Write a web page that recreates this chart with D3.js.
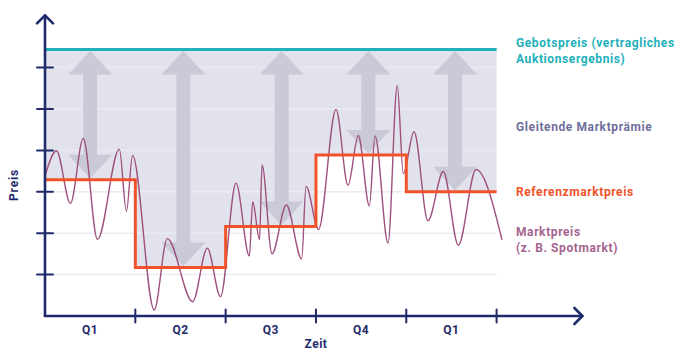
<!DOCTYPE html>
<html>
<head>
<meta charset="utf-8">
<script src="https://cdn.jsdelivr.net/npm/d3@7"></script>
<style>
  html, body { margin: 0; padding: 0; background: #ffffff; }
  svg { display: block; }
  text { font-family: Roboto, "Open Sans", sans-serif; font-weight: 700; }
</style>
</head>
<body>
<svg id="chart" width="680" height="352"></svg>
<script>
// Quarters along the time axis
const quarters = ["Q1", "Q2", "Q3", "Q4", "Q1"];

// Reference market price per quarter (step values)
const referencePrice = [3.29, 1.17, 2.16, 3.89, 3.0];

// Bid price (contracted auction result), constant
const bidPrice = 6.44;

// Market price (e.g. spot market): time in quarters, price in axis units
const marketTime = [0, 0.127, 0.282, 0.424, 0.581, 0.823, 0.902, 0.969, 1.209, 1.354,
  1.635, 1.797, 1.943, 2.115, 2.262, 2.3, 2.375, 2.403, 2.513, 2.672,
  2.842, 2.89, 3.028, 3.222, 3.355, 3.469, 3.591, 3.654, 3.798, 3.9,
  3.967, 4.086, 4.24, 4.41, 4.576, 4.772, 5.06];
const marketValue = [3.38, 3.99, 2.72, 4.29, 1.85, 4.03, 2.53, 3.88, 0.145, 1.87,
  0.345, 1.64, 0.466, 3.21, 1.45, 2.76, 1.84, 3.65, 1.5, 2.68,
  1.38, 3.13, 2.09, 4.99, 3.16, 4.36, 2.66, 4.35, 1.76, 5.57,
  3.44, 4.45, 2.3, 3.49, 1.71, 3.54, 1.84];

// Positions (in quarters) of the sliding premium arrows
const premiumArrowTime = [0.5, 1.532, 2.62, 3.58, 4.54];

// Y axis tick values and legend entries
const yTicks = [1, 2, 3, 4, 5, 6];
const legendLabels = [
  { lines: ["Gebotspreis (vertragliches", "Auktionsergebnis)"], color: "#22b0bb", y: 47 },
  { lines: ["Gleitende Marktprämie"], color: "#6f6f9c", y: 131 },
  { lines: ["Referenzmarktpreis"], color: "#f0532b", y: 196 },
  { lines: ["Marktpreis", "(z. B. Spotmarkt)"], color: "#a4648f", y: 236 }
];

const navy = "#1f2a6b";
const svg = d3.select("#chart");

const x = d3.scaleLinear().domain([0, 5]).range([45, 496.6]);
const y = d3.scaleLinear().domain([0, 6]).range([316, 67.6]);

// Shaded premium band between bid price and reference price
const stepData = referencePrice.map((v, i) => ({ t: i, v }));
stepData.push({ t: 5, v: referencePrice[referencePrice.length - 1] });

svg.append("path")
  .datum(stepData)
  .attr("fill", "#e2e2ec")
  .attr("d", d3.area()
    .x(d => x(d.t))
    .y0(y(bidPrice))
    .y1(d => y(d.v))
    .curve(d3.curveStepAfter));

// Horizontal gridlines
svg.append("g")
  .selectAll("line")
  .data(yTicks)
  .join("line")
  .attr("x1", x(0)).attr("x2", x(5))
  .attr("y1", d => y(d)).attr("y2", d => y(d))
  .attr("stroke", "#ebebf3")
  .attr("stroke-width", 1.5);

// Double-headed premium arrows from bid price down to reference price
const headW = 22, headH = 23.5, shaftW = 7;
svg.append("g")
  .selectAll("path")
  .data(premiumArrowTime)
  .join("path")
  .attr("fill", "#c9c9d8")
  .attr("d", t => {
    const cx = x(t);
    const top = y(bidPrice) + 1.5;
    const bottom = y(referencePrice[Math.floor(t)]) - 1.5;
    return `M${cx},${top} L${cx + headW},${top + headH} L${cx + shaftW},${top + headH}
      L${cx + shaftW},${bottom - headH} L${cx + headW},${bottom - headH} L${cx},${bottom}
      L${cx - headW},${bottom - headH} L${cx - shaftW},${bottom - headH}
      L${cx - shaftW},${top + headH} L${cx - headW},${top + headH} Z`;
  });

// Bid price line
svg.append("line")
  .attr("x1", x(0)).attr("x2", x(5))
  .attr("y1", y(bidPrice)).attr("y2", y(bidPrice))
  .attr("stroke", "#22b0bb")
  .attr("stroke-width", 3);

// Market price curve
const marketData = marketTime.map((t, i) => ({ t, v: marketValue[i] }));
svg.append("path")
  .datum(marketData)
  .attr("fill", "none")
  .attr("stroke", "#9e507f")
  .attr("stroke-width", 1.4)
  .attr("d", d3.line()
    .x(d => x(d.t))
    .y(d => y(d.v))
    .curve(d3.curveMonotoneX));

// Reference price step line
svg.append("path")
  .datum(stepData)
  .attr("fill", "none")
  .attr("stroke", "#f0522a")
  .attr("stroke-width", 3)
  .attr("d", d3.line()
    .x(d => x(d.t))
    .y(d => y(d.v))
    .curve(d3.curveStepAfter));

// Axes
const axisG = svg.append("g").attr("stroke", navy).attr("fill", "none")
  .attr("stroke-width", 2.6).attr("stroke-linecap", "round").attr("stroke-linejoin", "round");

const yTop = y(7.26), xEnd = x(5.95);
axisG.append("line").attr("x1", x(0)).attr("x2", x(0)).attr("y1", y(0)).attr("y2", yTop);
axisG.append("path").attr("d", `M${x(0) - 8},${yTop + 8} L${x(0)},${yTop} L${x(0) + 8},${yTop + 8}`);
axisG.append("line").attr("x1", x(0)).attr("x2", xEnd).attr("y1", y(0)).attr("y2", y(0));
axisG.append("path").attr("d", `M${xEnd - 8},${y(0) - 8} L${xEnd},${y(0)} L${xEnd - 8},${y(0) + 8}`);

// Y ticks
axisG.append("g").attr("stroke-width", 2)
  .selectAll("line")
  .data(yTicks)
  .join("line")
  .attr("x1", x(0) - 8).attr("x2", x(0) + 8)
  .attr("y1", d => y(d)).attr("y2", d => y(d));

// X ticks
axisG.append("g").attr("stroke-width", 2)
  .selectAll("line")
  .data(d3.range(1, 6))
  .join("line")
  .attr("x1", d => x(d)).attr("x2", d => x(d))
  .attr("y1", y(0) - 6.5).attr("y2", y(0) + 6.5);

// Quarter labels
svg.append("g")
  .selectAll("text")
  .data(quarters)
  .join("text")
  .attr("x", (d, i) => x(i + 0.5))
  .attr("y", 334)
  .attr("text-anchor", "middle")
  .attr("fill", navy)
  .attr("font-size", 12)
  .attr("letter-spacing", 0.5)
  .text(d => d);

// Axis titles
svg.append("text")
  .attr("x", x(3)).attr("y", 348)
  .attr("text-anchor", "middle")
  .attr("fill", navy)
  .attr("font-size", 12)
  .attr("letter-spacing", 0.5)
  .text("Zeit");

svg.append("text")
  .attr("transform", "translate(18,185) rotate(-90)")
  .attr("text-anchor", "middle")
  .attr("fill", navy)
  .attr("font-size", 12)
  .attr("letter-spacing", 0.8)
  .text("Preis");

// Legend labels
const legend = svg.append("g");
legendLabels.forEach(item => {
  item.lines.forEach((line, j) => {
    legend.append("text")
      .attr("x", 516)
      .attr("y", item.y + j * 16)
      .attr("fill", item.color)
      .attr("font-size", 12)
      .attr("letter-spacing", 0.6)
      .text(line);
  });
});
</script>
</body>
</html>
